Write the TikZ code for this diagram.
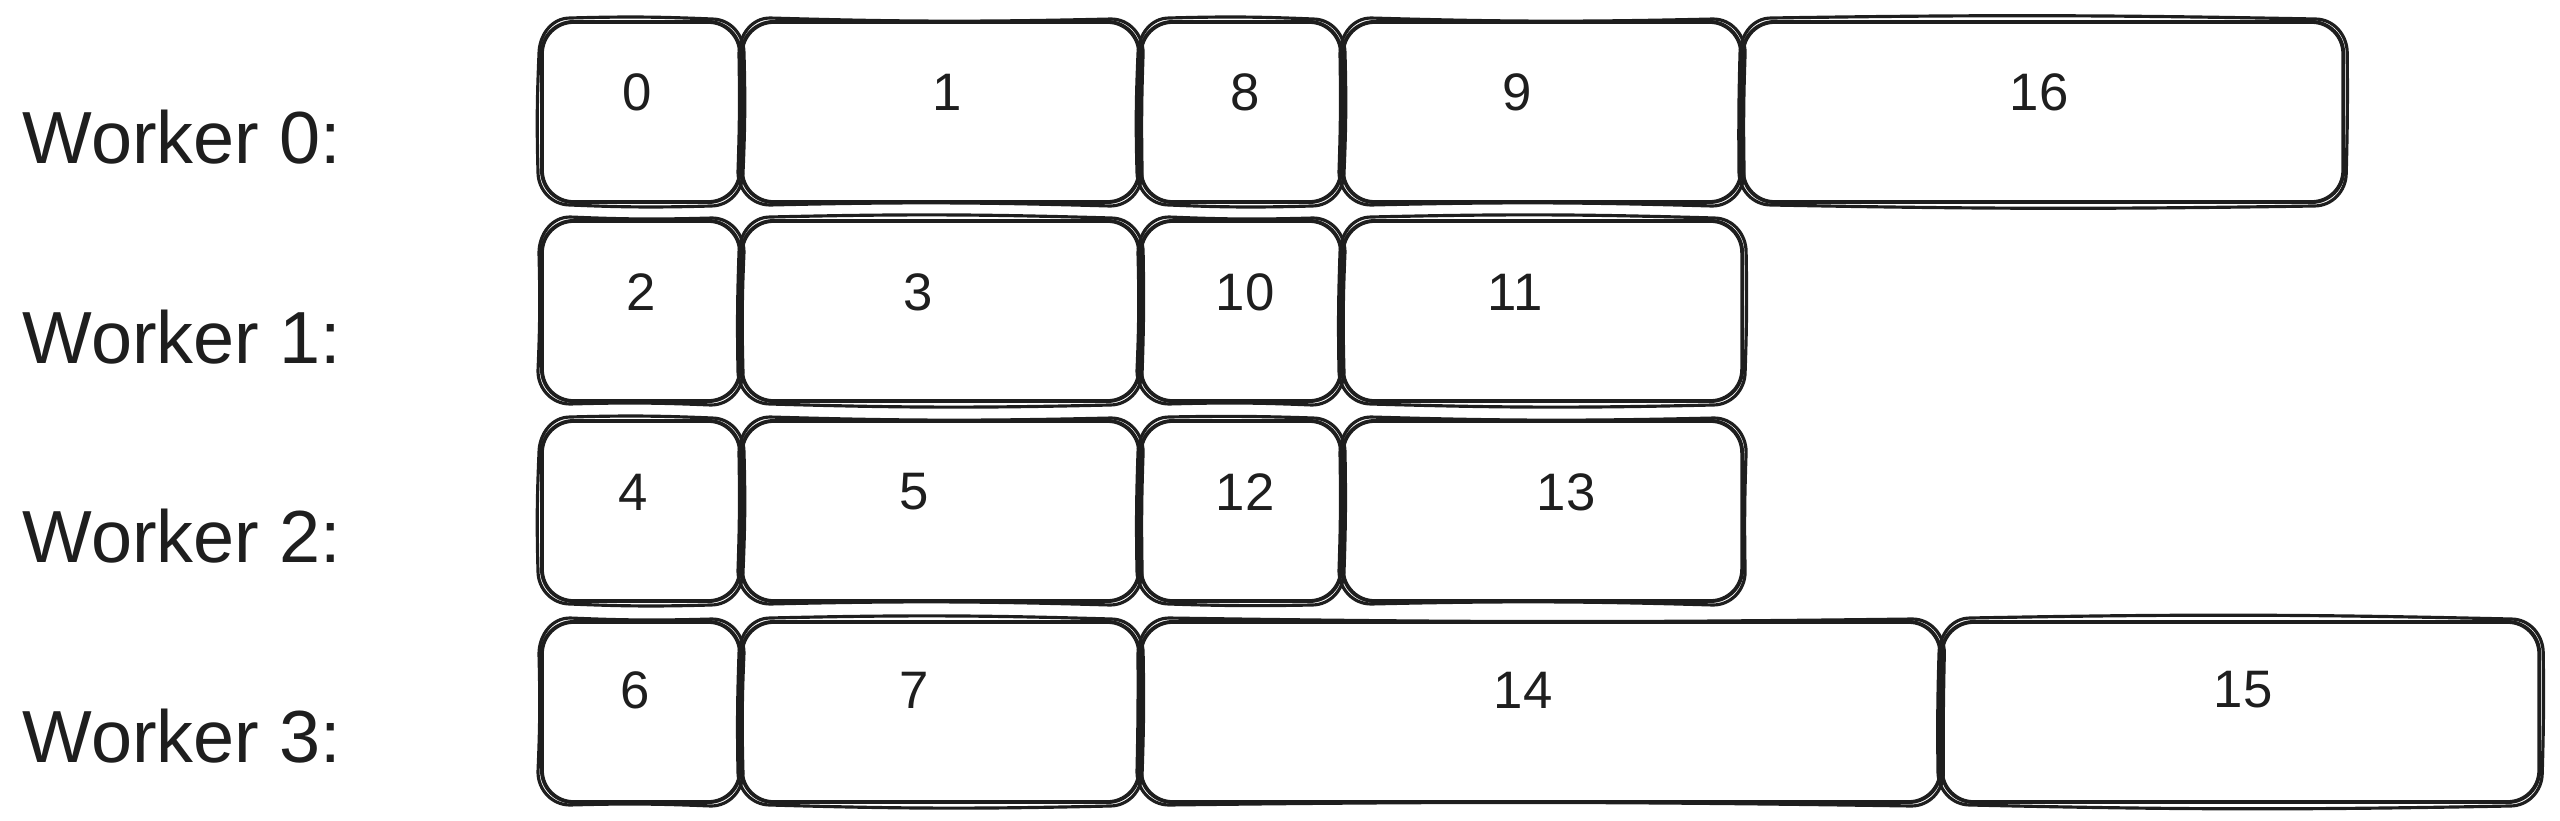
\documentclass[tikz,border=0pt]{standalone}
\usepackage{fontspec}
\setmainfont{Liberation Sans}
\usetikzlibrary{calc}
\definecolor{ink}{HTML}{1E1E1E}
\newcommand\roughstroke[2]{%
  \draw[rough]
    ($(#1.north west)+(-1,34)$) to[out=90,in=180] ($(#1.north west)+(30,-2)$)
    to[bend left=#2] ($(#1.north east)+(-30,-1)$) to[out=0,in=90] ($(#1.north east)+(2,33)$)
    to[bend left=#2] ($(#1.south east)+(1,-31)$) to[out=-90,in=0] ($(#1.south east)+(-31,2)$)
    to[bend left=#2] ($(#1.south west)+(30,1)$) to[out=180,in=-90] ($(#1.south west)+(-2,-32)$)
    to[bend left=#2] ($(#1.north west)+(-1,34)$);}
\tikzset{
  box/.style={draw=ink, line width=1.1pt, rounded corners=9pt, inner sep=0pt,
    minimum height=1.8cm, anchor=north west},
  rough/.style={draw=ink, line width=0.9pt, line join=round},
  num/.style={text=ink, font=\fontsize{15}{18}\selectfont, inner sep=0pt},
  lbl/.style={text=ink, font=\fontsize{21}{25}\selectfont, inner sep=0pt, anchor=base west},
}
\begin{document}
\begin{tikzpicture}[x=0.01cm, y=-0.01cm]
\useasboundingbox (0,0) rectangle (2560,820);
% labels
\node[lbl] (w0) at (22,163) {Worker 0:};
\node[lbl] (w1) at (22,363) {Worker 1:};
\node[lbl] (w2) at (22,562) {Worker 2:};
\node[lbl] (w3) at (22,762) {Worker 3:};
% row 0
\node[box, minimum width=1.98cm] (b0)  at (540,20) {};
\node[box, minimum width=3.97cm] (b1)  at (740,20) {};
\node[box, minimum width=2.00cm] (b8)  at (1139,20) {};
\node[box, minimum width=3.98cm] (b9)  at (1341,20) {};
\node[box, minimum width=6.00cm] (b16) at (1741,20) {};
% row 1
\node[box, minimum width=1.98cm] (b2)  at (540,219) {};
\node[box, minimum width=3.97cm] (b3)  at (740,219) {};
\node[box, minimum width=2.00cm] (b10) at (1139,219) {};
\node[box, minimum width=3.99cm] (b11) at (1341,219) {};
% row 2
\node[box, minimum width=1.98cm] (b4)  at (540,419) {};
\node[box, minimum width=3.97cm] (b5)  at (740,419) {};
\node[box, minimum width=2.00cm] (b12) at (1139,419) {};
\node[box, minimum width=3.99cm] (b13) at (1341,419) {};
% row 3
\node[box, minimum width=1.98cm] (b6)  at (540,620) {};
\node[box, minimum width=3.97cm] (b7)  at (740,620) {};
\node[box, minimum width=7.99cm] (b14) at (1139,620) {};
\node[box, minimum width=5.97cm] (b15) at (1940,620) {};
% sketchy second strokes
\roughstroke{b0}{2}
\roughstroke{b1}{-1.5}
\roughstroke{b8}{2}
\roughstroke{b9}{-1.5}
\roughstroke{b16}{1}
\roughstroke{b2}{-2}
\roughstroke{b3}{1.5}
\roughstroke{b10}{-2}
\roughstroke{b11}{1.5}
\roughstroke{b4}{2}
\roughstroke{b5}{-1.5}
\roughstroke{b12}{1.5}
\roughstroke{b13}{-1.5}
\roughstroke{b6}{-2}
\roughstroke{b7}{1.5}
\roughstroke{b14}{-0.8}
\roughstroke{b15}{1.2}
% numbers
\node[num] (t0)  at (637,92) {0};
\node[num] (t1)  at (947,92) {1};
\node[num] (t8)  at (1245,92) {8};
\node[num] (t9)  at (1517,92) {9};
\node[num] (t16) at (2039,92) {16};
\node[num] (t2)  at (641,292) {2};
\node[num] (t3)  at (918,292) {3};
\node[num] (t10) at (1245,292) {10};
\node[num] (t11) at (1515,292) {11};
\node[num] (t4)  at (633,492) {4};
\node[num] (t5)  at (914,492) {5};
\node[num] (t12) at (1245,492) {12};
\node[num] (t13) at (1566,492) {13};
\node[num] (t6)  at (635,690) {6};
\node[num] (t7)  at (914,690) {7};
\node[num] (t14) at (1523,690) {14};
\node[num] (t15) at (2243,690) {15};
\end{tikzpicture}
\end{document}
